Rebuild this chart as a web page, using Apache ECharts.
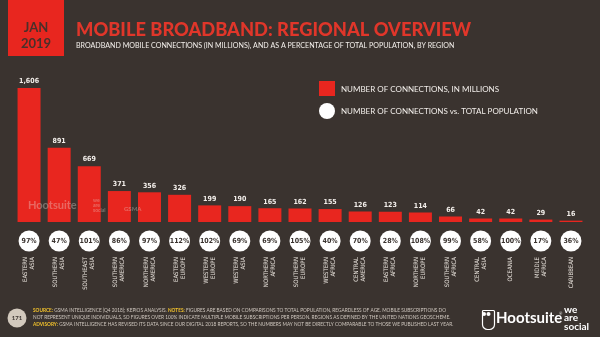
<!DOCTYPE html>
<html>
<head>
<meta charset="utf-8">
<script src="https://cdn.jsdelivr.net/npm/echarts@6/dist/echarts.min.js"></script>
<style>
  html, body { margin: 0; padding: 0; background: #3a332f; }
  #chart { width: 600px; height: 337px; }
</style>
</head>
<body>
<div id="chart"></div>
<script>
// Regions (two-line labels for the rotated axis)
const regions = [
  'EASTERN\nASIA', 'SOUTHERN\nASIA', 'SOUTHEAST\nASIA', 'SOUTHERN\nAMERICA', 'NORTHERN\nAMERICA',
  'EASTERN\nEUROPE', 'WESTERN\nEUROPE', 'WESTERN\nASIA', 'NORTHERN\nAFRICA', 'SOUTHERN\nEUROPE',
  'WESTERN\nAFRICA', 'CENTRAL\nAMERICA', 'EASTERN\nAFRICA', 'NORTHERN\nEUROPE', 'SOUTHERN\nAFRICA',
  'CENTRAL\nASIA', 'OCEANIA', 'MIDDLE\nAFRICA', 'CARIBBEAN'
];
// Broadband mobile connections, in millions
const connections = [1606, 891, 669, 371, 356, 326, 199, 190, 165, 162, 155, 126, 123, 114, 66, 42, 42, 29, 16];
// Connections as a percentage of total population
const penetration = [97, 47, 101, 86, 97, 112, 102, 69, 69, 105, 40, 70, 28, 108, 99, 58, 100, 17, 36];

const RED = '#e8261f';
const BG = '#3a332f';
const NARROW = "'Liberation Sans Narrow', 'DejaVu Sans Condensed', sans-serif";
const HEAD = "Lato, 'Open Sans', sans-serif";

const chart = echarts.init(document.getElementById('chart'), null, { renderer: 'canvas' });

chart.setOption({
  backgroundColor: BG,
  animation: false,
  grid: [
    { left: 14, right: 14, top: 88, bottom: 115 },
    { left: 14, right: 14, top: 230, height: 22 }
  ],
  xAxis: [
    {
      type: 'category', gridIndex: 0, data: regions,
      axisLine: { show: false }, axisTick: { show: false },
      axisLabel: {
        rotate: 90, interval: 0, margin: 35,
        color: '#e6e0da', fontSize: 6, lineHeight: 7, fontFamily: NARROW
      }
    },
    {
      type: 'category', gridIndex: 1, data: regions,
      axisLine: { show: false }, axisTick: { show: false }, axisLabel: { show: false }
    }
  ],
  yAxis: [
    { type: 'value', gridIndex: 0, min: 0, max: 1606, show: false, splitLine: { show: false } },
    { type: 'value', gridIndex: 1, min: -1, max: 1, show: false, splitLine: { show: false } }
  ],
  series: [
    {
      name: 'NUMBER OF CONNECTIONS, IN MILLIONS',
      type: 'bar', xAxisIndex: 0, yAxisIndex: 0,
      data: connections,
      barWidth: 23,
      itemStyle: { color: RED },
      label: {
        show: true, position: 'top', distance: 3,
        color: '#f4f0ec', fontSize: 7, fontWeight: 'bold', fontFamily: NARROW,
        formatter: p => p.value.toLocaleString('en-US')
      }
    },
    {
      name: 'NUMBER OF CONNECTIONS vs. TOTAL POPULATION',
      type: 'scatter', xAxisIndex: 1, yAxisIndex: 1,
      data: penetration.map(() => 0),
      symbol: 'circle', symbolSize: 21,
      itemStyle: { color: '#ffffff', opacity: 1 },
      label: {
        show: true, position: 'inside',
        color: '#3a332f', fontSize: 7, fontWeight: 'bold', fontFamily: NARROW,
        formatter: p => penetration[p.dataIndex] + '%'
      }
    }
  ],
  graphic: [
    // date badge
    { type: 'rect', left: 8, top: 0, shape: { width: 56, height: 56 }, style: { fill: RED } },
    { type: 'text', x: 36, y: 28, style: { text: 'JAN', fill: '#4a302a', font: "bold 13px " + HEAD, textAlign: 'center', textVerticalAlign: 'middle' } },
    { type: 'text', x: 36, y: 44, style: { text: '2019', fill: '#4a302a', font: "bold 13px " + HEAD, textAlign: 'center', textVerticalAlign: 'middle' } },
    // heading
    { type: 'text', x: 76, y: 30, style: { text: 'MOBILE BROADBAND: REGIONAL OVERVIEW', fill: '#e0362a', font: "900 18.3px " + HEAD, textVerticalAlign: 'middle' } },
    { type: 'text', x: 76, y: 46, style: { text: 'BROADBAND MOBILE CONNECTIONS (IN MILLIONS), AND AS A PERCENTAGE OF TOTAL POPULATION, BY REGION', fill: '#f4f0ec', font: "7.1px " + HEAD, textVerticalAlign: 'middle' } },
    // legend
    { type: 'rect', left: 319, top: 81, shape: { width: 16, height: 15 }, style: { fill: RED } },
    { type: 'text', x: 341, y: 89, style: { text: 'NUMBER OF CONNECTIONS, IN MILLIONS', fill: '#f2eeea', font: "8px " + HEAD, textVerticalAlign: 'middle' } },
    { type: 'circle', shape: { cx: 327, cy: 111, r: 8 }, style: { fill: '#ffffff' } },
    { type: 'text', x: 341, y: 111, style: { text: 'NUMBER OF CONNECTIONS vs. TOTAL POPULATION', fill: '#f2eeea', font: "8px " + HEAD, textVerticalAlign: 'middle' } },
    // faint watermark over the first bars
    { type: 'text', x: 28, y: 205, z: 100, style: { text: 'Hootsuite', fill: 'rgba(235,225,220,0.35)', font: "bold 11px " + HEAD, textVerticalAlign: 'middle' } },
    { type: 'text', x: 93, y: 205, z: 100, style: { text: 'we\nare\nsocial', fill: 'rgba(235,225,220,0.35)', font: "bold 5px " + HEAD, lineHeight: 5, textVerticalAlign: 'middle' } },
    { type: 'text', x: 124, y: 209, z: 100, style: { text: 'GSMA', fill: 'rgba(235,225,220,0.35)', font: "bold 6px " + HEAD, textVerticalAlign: 'middle' } },
    // footer page number
    { type: 'circle', shape: { cx: 17, cy: 318, r: 9.5 }, style: { fill: '#d2c9bd' } },
    { type: 'text', x: 17, y: 318, style: { text: '171', fill: '#3a332f', font: "bold 6px " + HEAD, textAlign: 'center', textVerticalAlign: 'middle' } },
    // footer notes
    {
      type: 'text', x: 33, y: 317,
      style: {
        text: '{y|SOURCE:} GSMA INTELLIGENCE (Q4 2018); KEPIOS ANALYSIS. {y|NOTES:} FIGURES ARE BASED ON COMPARISONS TO TOTAL POPULATION, REGARDLESS OF AGE. MOBILE SUBSCRIPTIONS DO\n' +
              'NOT REPRESENT UNIQUE INDIVIDUALS, SO FIGURES OVER 100% INDICATE MULTIPLE MOBILE SUBSCRIPTIONS PER PERSON. REGIONS AS DEFINED BY THE UNITED NATIONS GEOSCHEME.\n' +
              '{y|ADVISORY:} GSMA INTELLIGENCE HAS REVISED ITS DATA SINCE OUR DIGITAL 2018 REPORTS, SO THE NUMBERS MAY NOT BE DIRECTLY COMPARABLE TO THOSE WE PUBLISHED LAST YEAR.',
        fill: '#cfc7bf', font: "4.75px " + HEAD, lineHeight: 7, textVerticalAlign: 'middle',
        rich: { y: { fill: '#f2c22c', fontWeight: 'bold', fontSize: 4.75, fontFamily: HEAD } }
      }
    },
    // brand marks
    { type: 'rect', left: 480, top: 308, shape: { width: 12, height: 19, r: [1, 1, 5, 5] }, style: { fill: 'none', stroke: '#ffffff', lineWidth: 1.2 } },
    { type: 'circle', shape: { cx: 484, cy: 314, r: 2 }, style: { fill: '#ffffff' } },
    { type: 'circle', shape: { cx: 488.5, cy: 314, r: 2 }, style: { fill: '#ffffff' } },
    { type: 'text', x: 496, y: 318, style: { text: 'Hootsuite', fill: '#ffffff', font: "bold 15px " + HEAD, textVerticalAlign: 'middle' } },
    { type: 'text', x: 559, y: 312, style: { text: '®', fill: '#ffffff', font: "4px " + HEAD } },
    { type: 'text', x: 564, y: 318, style: { text: 'we\nare\nsocial', fill: '#ffffff', font: "bold 10px " + HEAD, lineHeight: 8.5, textVerticalAlign: 'middle' } }
  ]
});
</script>
</body>
</html>
